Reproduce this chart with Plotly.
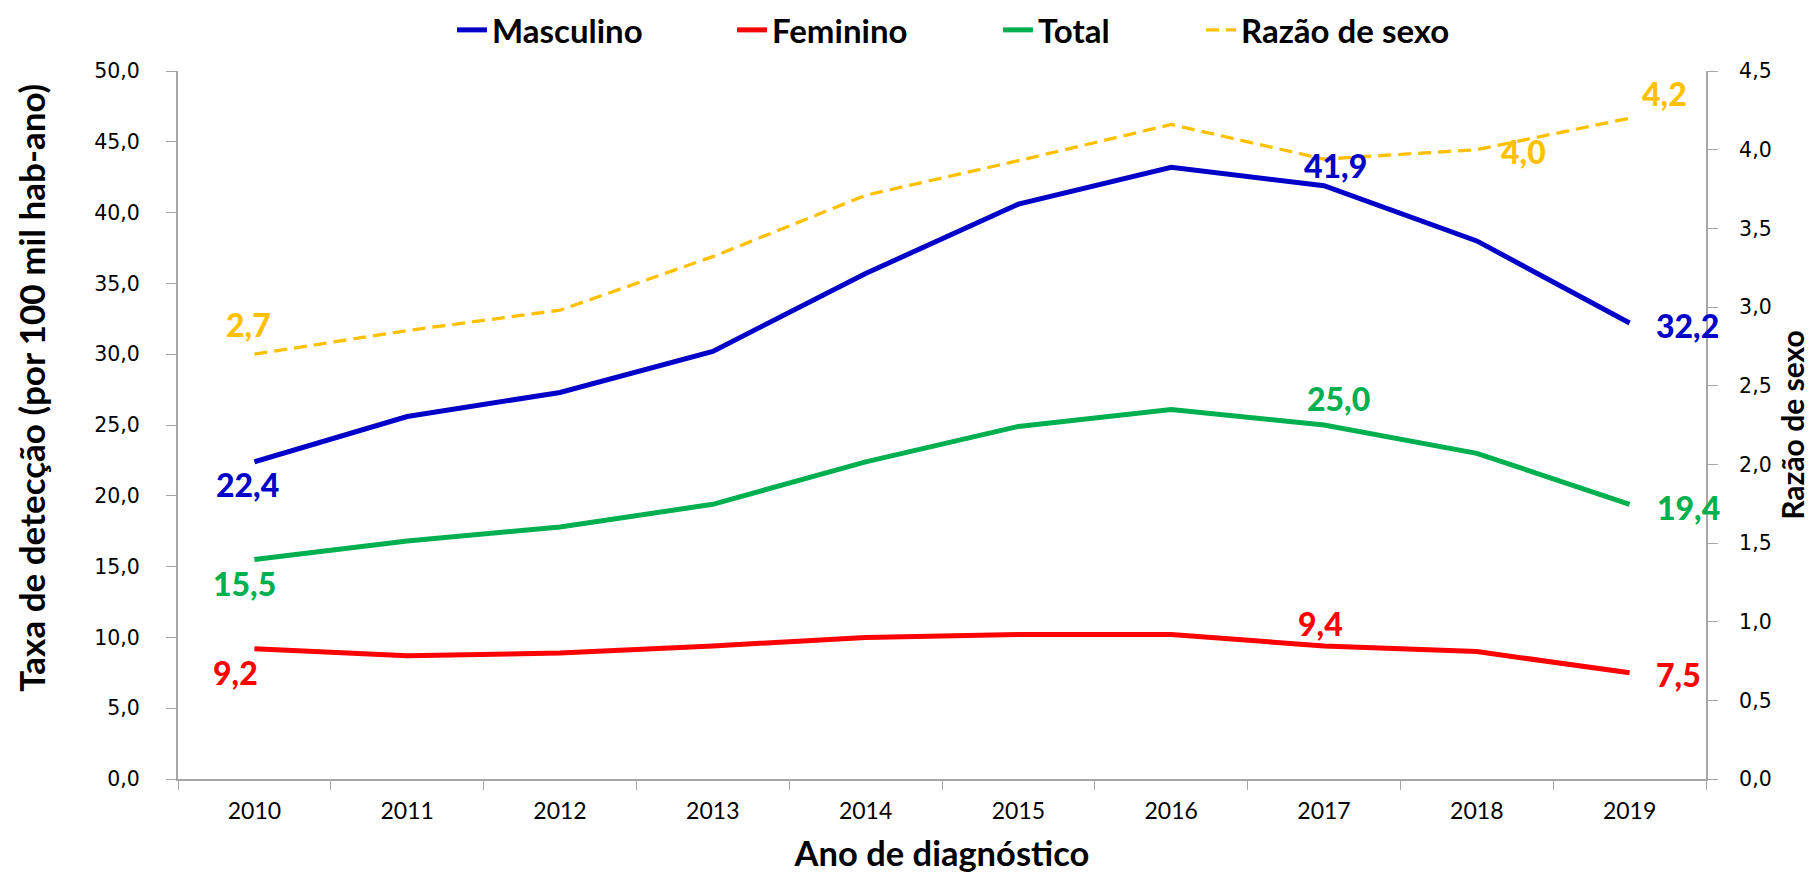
import plotly.graph_objects as go

years = ["2010", "2011", "2012", "2013", "2014", "2015", "2016", "2017", "2018", "2019"]
masculino = [22.4, 25.6, 27.3, 30.2, 35.7, 40.6, 43.2, 41.9, 38.0, 32.2]
feminino = [9.2, 8.7, 8.9, 9.4, 10.0, 10.2, 10.2, 9.4, 9.0, 7.5]
total = [15.5, 16.8, 17.8, 19.4, 22.4, 24.9, 26.1, 25.0, 23.0, 19.4]
razao = [2.7, 2.85, 2.98, 3.32, 3.71, 3.93, 4.16, 3.94, 4.0, 4.2]

C_M = "#0000C8"
C_F = "#FF0000"
C_T = "#00B050"
C_R = "#FFC000"

LBL_FONT = "Lato, 'Open Sans', sans-serif"
TICK_FONT = "'DejaVu Sans', Verdana, sans-serif"

fig = go.Figure()
fig.add_trace(go.Scatter(x=years, y=masculino, name="Masculino", mode="lines",
                         line=dict(color=C_M, width=5), legend="legend"))
fig.add_trace(go.Scatter(x=years, y=feminino, name="Feminino", mode="lines",
                         line=dict(color=C_F, width=5), legend="legend2"))
fig.add_trace(go.Scatter(x=years, y=total, name="Total", mode="lines",
                         line=dict(color=C_T, width=5), legend="legend3"))
fig.add_trace(go.Scatter(x=years, y=razao, name="Razão de sexo", mode="lines",
                         line=dict(color=C_R, width=3.3, dash="13px,7px"),
                         yaxis="y2", legend="legend4"))

def fmt(v):
    return f"{v:.1f}".replace(".", ",")

# (series, index, color, yref, xanchor, xshift, yshift)
labels = [
    (razao, 0, C_R, "y2", "center", -6, 30),
    (masculino, 0, C_M, "y", "center", -7, -23),
    (total, 0, C_T, "y", "center", -10, -24),
    (feminino, 0, C_F, "y", "center", -19, -24),
    (masculino, 7, C_M, "y", "center", 11, 20),
    (total, 7, C_T, "y", "center", 14, 27),
    (feminino, 7, C_F, "y", "center", -4, 22),
    (razao, 8, C_R, "y2", "center", 47, -2),
    (razao, 9, C_R, "y2", "center", 35, 25),
    (masculino, 9, C_M, "y", "left", 24, -2),
    (total, 9, C_T, "y", "left", 25, -3),
    (feminino, 9, C_F, "y", "left", 24, -2),
]
for series, i, col, yref, xa, dx, dy in labels:
    fig.add_annotation(x=i, y=series[i], xref="x", yref=yref,
                       text=fmt(series[i]), showarrow=False, xanchor=xa,
                       xshift=dx, yshift=dy,
                       font=dict(family=LBL_FONT, size=32, color=col, weight=900))

# left axis title
fig.add_annotation(text="Taxa de detecção (por 100 mil hab-ano)", textangle=-90,
                   xref="paper", yref="paper", x=-0.096, y=0.553,
                   xanchor="center", yanchor="middle", showarrow=False,
                   font=dict(family=LBL_FONT, size=35, color="black", weight="bold"))

axis_col = "#A6A6A6"
leg_font = dict(family=LBL_FONT, size=33, color="black", weight="bold")
def leg(xpos):
    return dict(orientation="h", x=xpos, xanchor="left", xref="paper",
                y=0.975, yanchor="middle", yref="container",
                font=leg_font, bgcolor="rgba(0,0,0,0)")

fig.update_layout(
    width=1814, height=877,
    margin=dict(l=170, r=116, t=63, b=106, autoexpand=False),
    paper_bgcolor="white", plot_bgcolor="white",
    separators=",.",
    showlegend=True,
    legend=leg(0.1793),
    legend2=leg(0.3626),
    legend3=leg(0.5366),
    legend4=leg(0.6695),
    xaxis=dict(
        type="category", range=[-0.5, 9.5], automargin=False,
        showline=True, linecolor=axis_col, linewidth=2,
        ticks="outside", tickson="boundaries", ticklen=9, tickcolor=axis_col, tickwidth=1,
        showgrid=False, zeroline=False,
        tickfont=dict(family=LBL_FONT, size=23, color="black"),
        ticklabelstandoff=10,
        title=dict(text="Ano de diagnóstico", standoff=19,
                   font=dict(family=LBL_FONT, size=34.5, color="black", weight="bold")),
    ),
    yaxis=dict(
        range=[0, 50], dtick=5, tickformat=".1f", automargin=False,
        showline=True, linecolor=axis_col, linewidth=2,
        ticks="outside", ticklen=10, tickcolor=axis_col,
        showgrid=False, zeroline=False,
        tickfont=dict(family=TICK_FONT, size=20.5, color="black"),
        ticklabelstandoff=22,
    ),
    yaxis2=dict(
        range=[0, 4.5], dtick=0.5, tickformat=".1f", automargin=False,
        overlaying="y", side="right",
        showline=True, linecolor=axis_col, linewidth=2,
        ticks="outside", ticklen=10, tickcolor=axis_col,
        showgrid=False, zeroline=False,
        tickfont=dict(family=TICK_FONT, size=20.5, color="black"),
        ticklabelstandoff=17,
        title=dict(text="Razão de sexo", standoff=12,
                   font=dict(family=LBL_FONT, size=30, color="black", weight="bold")),
    ),
)

fig.write_html("out.html")
